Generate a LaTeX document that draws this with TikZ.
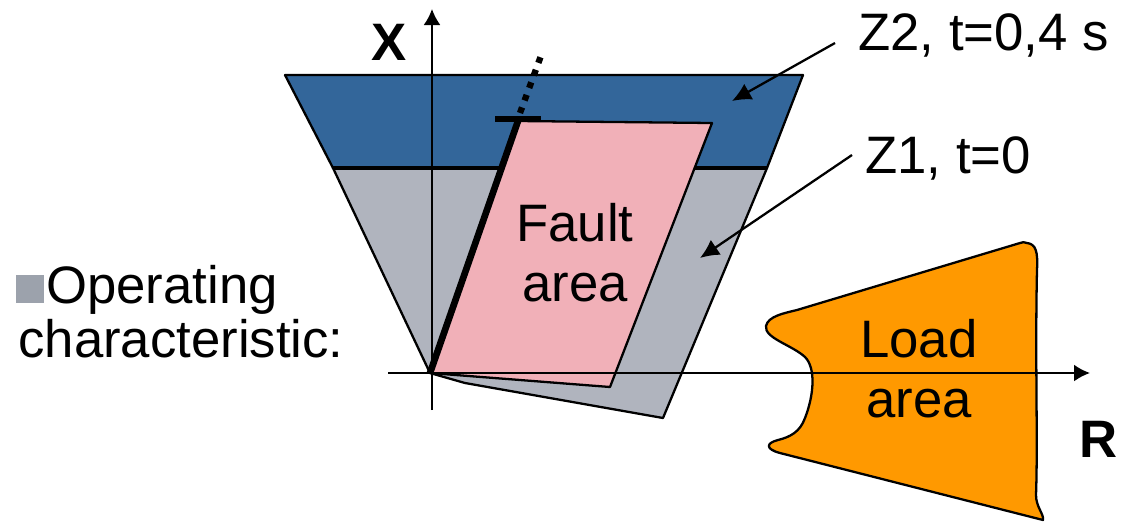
\documentclass[tikz,border=0pt]{standalone}
\usepackage{fontspec}
\setmainfont{Liberation Sans}
\usetikzlibrary{arrows.meta,positioning}
\definecolor{zoneBlue}{HTML}{33669A}
\definecolor{zoneGray}{HTML}{B0B4BE}
\definecolor{faultPink}{HTML}{F1B0B8}
\definecolor{loadOrange}{HTML}{FF9900}
\definecolor{bulletGray}{HTML}{9CA2AC}

\begin{document}
\begin{tikzpicture}[
  x=0.02cm, y=-0.02cm,
  >=Latex,
  zone/.style={draw=black, line width=1.3pt, line join=round, fill=#1},
  axis/.style={-{Latex[length=0.32cm, width=0.34cm]}, line width=1.2pt},
  callout/.style={-{Latex[length=0.38cm, width=0.36cm]}, line width=1.3pt},
  tag/.style={font=\fontsize{30}{34}\selectfont, inner sep=0pt},
  axtag/.style={font=\fontsize{30}{34}\selectfont\bfseries, inner sep=0pt}
]
  \useasboundingbox (0,0) rectangle (1126,522);

  % Points
  \coordinate (O) at (430,373);
  \coordinate (reachTop) at (518,121);

  % Zone 2 (delayed) and zone 1 (instant)
  \draw[zone=zoneBlue] (285,75) -- (803,75) -- (767,168) -- (333,168) -- cycle;
  \draw[zone=zoneGray] (333,168) -- (767,168) -- (663,418) -- (465,383) -- (O) -- cycle;
  \draw[line width=2.8pt] (333,168) -- (767,168);

  % Fault area
  \draw[zone=faultPink] (O) -- (reachTop) -- (712,123) -- (610,387) -- cycle;
  \node[tag, align=center] (fault) at (575,253) {Fault\\area};

  % Load area
  \draw[zone=loadOrange]
    (1027,243) .. controls (1036,244) and (1038,252) .. (1037,270)
    .. controls (1035,360) and (1038,440) .. (1036,495)
    .. controls (1036,507) and (1044,514) .. (1043,520)
    -- (780,453)
    .. controls (765,449) and (766,443) .. (778,440)
    .. controls (790,437) and (800,432) .. (805,418)
    .. controls (814,395) and (816,368) .. (805,357)
    .. controls (792,345) and (764,338) .. (766,326)
    .. controls (768,316) and (785,313) .. (797,310)
    -- (1020,243)
    .. controls (1023,242) .. (1027,243) -- cycle;
  \node[tag, align=center] (load) at (919,369) {Load\\area};

  % Axes
  \draw[axis] (432,410) -- (432,9);
  \draw[axis] (388,373) -- (1090,373);
  \node[axtag, anchor=base west] (xlbl) at (371,60) {X};
  \node[axtag, anchor=base west] (rlbl) at (1079,457) {R};

  % Line angle with reach marker
  \draw[line width=3.8pt] (O) -- (reachTop);
  \draw[line width=3.6pt] (495,119) -- (541,119);
  \draw[line width=3.6pt, dash pattern=on 3.4pt off 4.2pt] (520,113) -- (542,53);

  % Zone labels
  \node[tag, anchor=base west] (z2lbl) at (858,50) {Z2, t=0,4 s};
  \node[tag, anchor=base west] (z1lbl) at (865,173) {Z1, t=0};
  \coordinate (z2tail) at (835,43);
  \coordinate (z2tip) at (732,101);
  \coordinate (z1tail) at (852,155);
  \coordinate (z1tip) at (700,258);
  \draw[callout] (z2tail) -- (z2tip);
  \draw[callout] (z1tail) -- (z1tip);

  % Legend
  \node[tag, anchor=base west] (oplbl) at (16,303)
    {\textcolor{bulletGray}{\rule{0.56cm}{0.56cm}}\hspace{0.04cm}Operating};
  \node[tag, anchor=base west] (chlbl) at (18,357) {characteristic:};
\end{tikzpicture}
\end{document}
